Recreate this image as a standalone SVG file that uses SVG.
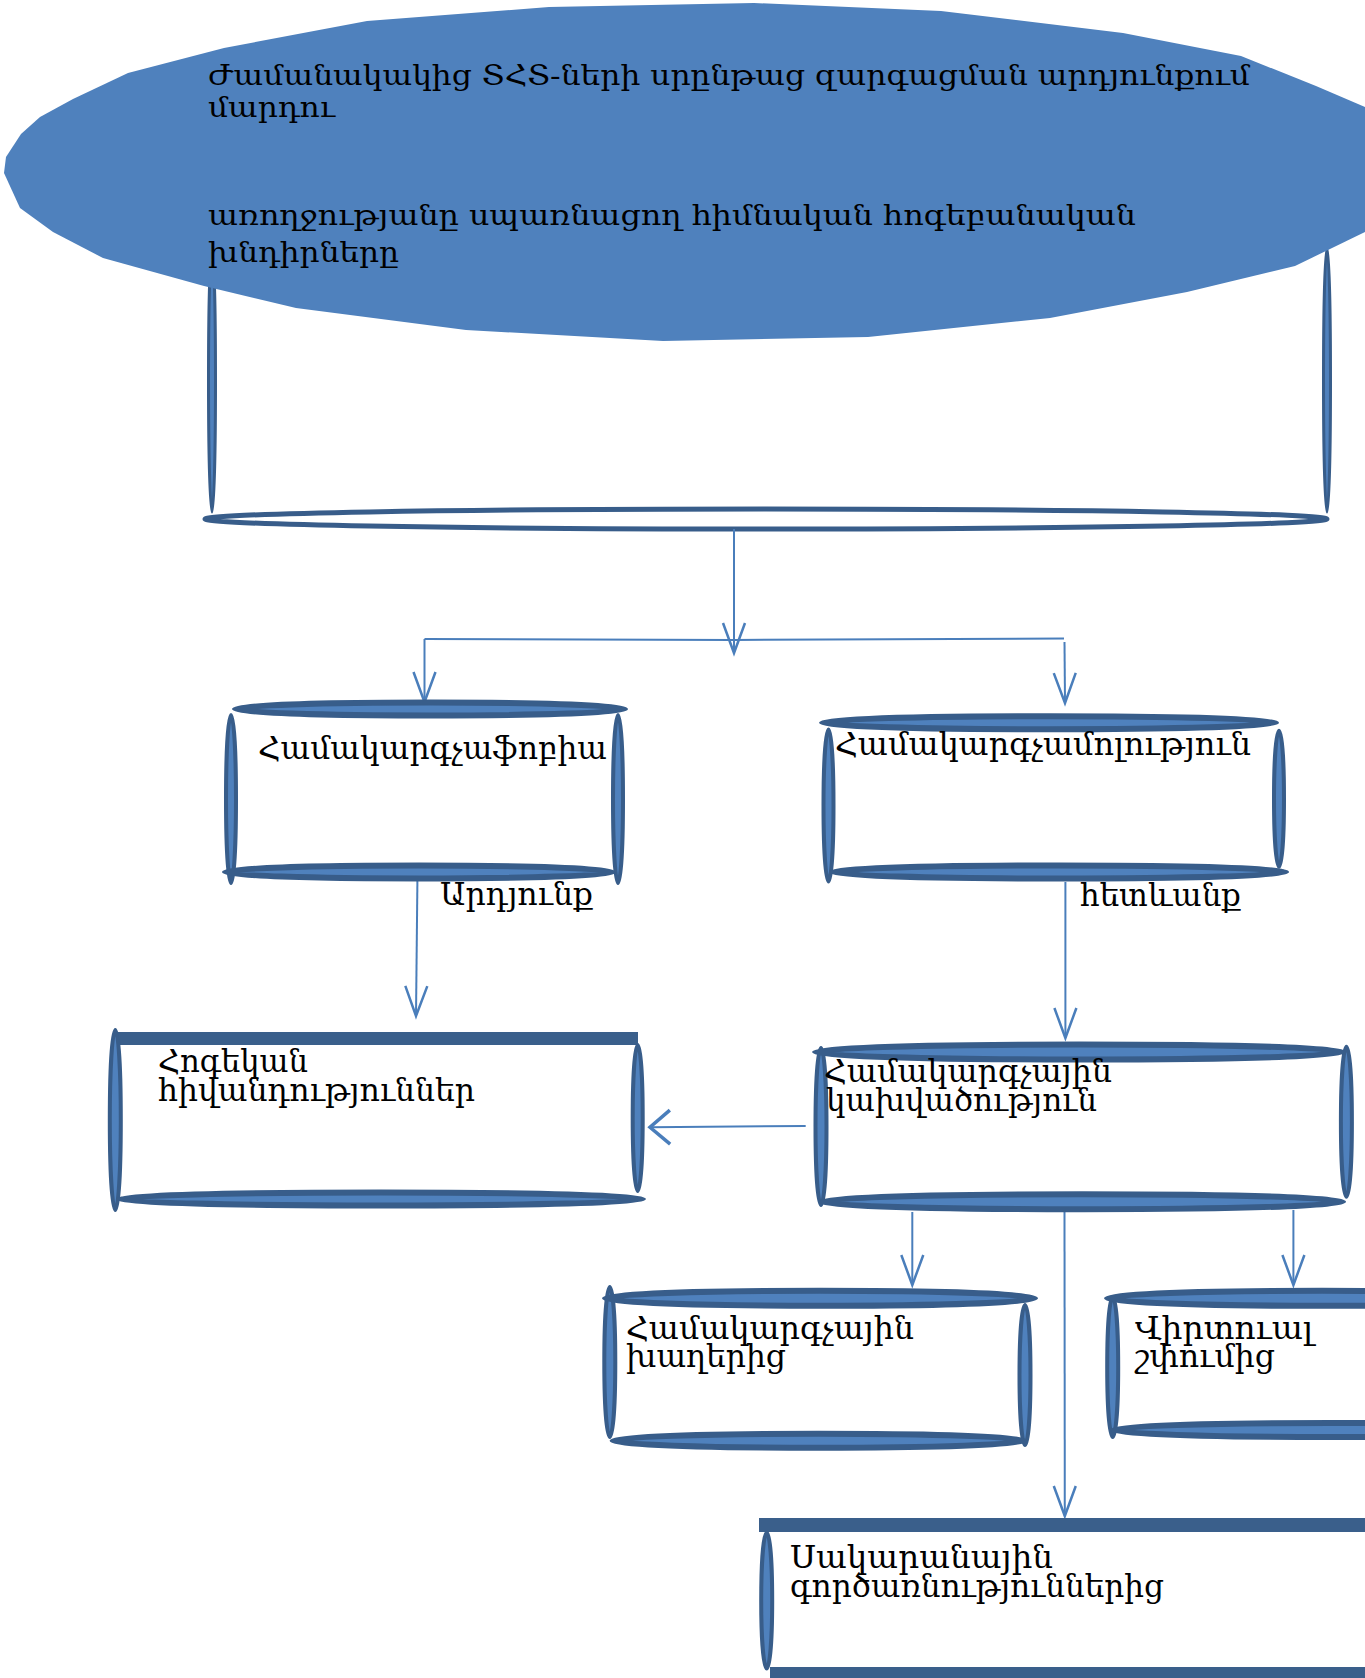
<svg xmlns="http://www.w3.org/2000/svg" width="1365" height="1678" viewBox="0 0 1365 1678">
<style>
.bar{fill:#4f81bd;stroke:#385d8a;stroke-width:4}
.hbar{fill:#4f81bd;stroke:#385d8a;stroke-width:6}
.thin{fill:#4f81bd;stroke:#385d8a;stroke-width:3}
.slab{fill:#3a5f8b}
.t{font-family:'DejaVu Serif',serif;fill:#000}
.te{font-size:27px}
.tb{font-size:32px}
.con{fill:none;stroke:#4a7ebb;stroke-width:2}
</style>
<defs>
<marker id="arr" markerUnits="userSpaceOnUse" markerWidth="32" markerHeight="26" viewBox="0 0 32 26" refX="30" refY="13" orient="auto" overflow="visible">
<path d="M0,2 L30,13 L0,24" fill="none" stroke="#4a7ebb" stroke-width="2.5"/>
</marker>
<marker id="arrL" markerUnits="userSpaceOnUse" markerWidth="22" markerHeight="38" viewBox="0 0 22 38" refX="20" refY="19" orient="auto" overflow="visible">
<path d="M0,2 L20,19 L0,36" fill="none" stroke="#4a7ebb" stroke-width="3.5"/>
</marker>
</defs>
<rect width="1365" height="1678" fill="#fff"/>

<g id="main-frame">
<ellipse class="thin" cx="212" cy="380" rx="3.5" ry="132"/>
<ellipse class="thin" cx="1327" cy="380" rx="3.5" ry="132"/>
<ellipse cx="766" cy="519" rx="561" ry="10" fill="#fff" stroke="#385d8a" stroke-width="5"/>
</g>

<g id="title">
<polygon fill="#4f81bd" points="754,3 941,11 1123,33 1241,56 1316,86 1365,107 1420,170 1365,232 1295,266 1187,292 1050,318 868,337 663,341 466,330 296,308 204,286 103,258 53,232 20,208 4,173 6,157 21,134 40,117 73,99 128,73 224,48 367,21 549,7"/>
<text class="t te"><tspan x="208" y="85" textLength="1042" lengthAdjust="spacingAndGlyphs">Ժամանակակից ՏՀՏ-ների սրընթաց զարգացման արդյունքում</tspan></text>
<text class="t te"><tspan x="208" y="117" textLength="127" lengthAdjust="spacingAndGlyphs">մարդու</tspan></text>
<text class="t te"><tspan x="208" y="225" textLength="928" lengthAdjust="spacingAndGlyphs">առողջությանը սպառնացող հիմնական հոգեբանական</tspan></text>
<text class="t te"><tspan x="208" y="262" textLength="191" lengthAdjust="spacingAndGlyphs">խնդիրները</tspan></text>
</g>

<g id="connectors">
<line class="con" x1="734" y1="529" x2="734" y2="653" marker-end="url(#arr)"/>
<path class="con" d="M424.5,639 L734,640 L1064,638.5" stroke-width="1.8"/>
<line class="con" x1="424.5" y1="639" x2="424.5" y2="702" marker-end="url(#arr)"/>
<line class="con" x1="1064.5" y1="642" x2="1065" y2="703" marker-end="url(#arr)"/>
<line class="con" x1="417.4" y1="881" x2="416" y2="1016" marker-end="url(#arr)"/>
<line class="con" x1="1065.4" y1="882" x2="1065.4" y2="1038" marker-end="url(#arr)"/>
<line class="con" x1="805.7" y1="1126" x2="650" y2="1127.3" stroke-width="3.5" marker-end="url(#arrL)"/>
<line class="con" x1="912.3" y1="1212" x2="912.3" y2="1285" marker-end="url(#arr)"/>
<line class="con" x1="1064.5" y1="1210" x2="1064.8" y2="1516" marker-end="url(#arr)"/>
<line class="con" x1="1293.4" y1="1210" x2="1293.4" y2="1285" marker-end="url(#arr)"/>
<text class="t tb"><tspan x="440" y="905" textLength="153" lengthAdjust="spacingAndGlyphs">Արդյունք</tspan></text>
<text class="t tb"><tspan x="1080" y="906" textLength="161" lengthAdjust="spacingAndGlyphs">հետևանք</tspan></text>
</g>

<g id="node-phobia">
<ellipse class="bar" cx="231" cy="799" rx="5" ry="84"/>
<ellipse class="bar" cx="618" cy="799" rx="5" ry="84"/>
<ellipse class="hbar" cx="430" cy="709" rx="195" ry="6.5"/>
<ellipse class="hbar" cx="419" cy="872" rx="194" ry="6.5"/>
<text class="t tb"><tspan x="258" y="759" textLength="349" lengthAdjust="spacingAndGlyphs">Համակարգչաֆոբիա</tspan></text>
</g>

<g id="node-mania">
<ellipse class="bar" cx="828.5" cy="805.5" rx="5" ry="76"/>
<ellipse class="bar" cx="1279" cy="798.7" rx="5" ry="68"/>
<ellipse class="hbar" cx="1049" cy="722.7" rx="227" ry="6.5"/>
<ellipse class="hbar" cx="1059" cy="872" rx="227" ry="6.5"/>
<text class="t tb"><tspan x="835" y="755" textLength="416" lengthAdjust="spacingAndGlyphs">Համակարգչամոլություն</tspan></text>
</g>

<g id="node-illness">
<rect class="slab" x="115" y="1032" width="523" height="13"/>
<ellipse class="bar" cx="115.3" cy="1120" rx="5.5" ry="90"/>
<ellipse class="bar" cx="637.7" cy="1118" rx="5" ry="73"/>
<ellipse class="hbar" cx="381" cy="1199" rx="262" ry="6.5"/>
<text class="t tb"><tspan x="158" y="1071.7" textLength="150" lengthAdjust="spacingAndGlyphs">Հոգեկան</tspan></text>
<text class="t tb"><tspan x="158" y="1100.7" textLength="317" lengthAdjust="spacingAndGlyphs">հիվանդություններ</tspan></text>
</g>

<g id="node-addiction">
<ellipse class="bar" cx="821" cy="1126.5" rx="5.5" ry="78.5"/>
<ellipse class="bar" cx="1346.4" cy="1121.7" rx="5.5" ry="75"/>
<ellipse class="hbar" cx="1079" cy="1052" rx="264" ry="7.5" stroke-width="7"/>
<ellipse class="hbar" cx="1082" cy="1201.7" rx="261" ry="7.5" stroke-width="7"/>
<text class="t tb"><tspan x="824" y="1082" textLength="288" lengthAdjust="spacingAndGlyphs">Համակարգչային</tspan></text>
<text class="t tb"><tspan x="826" y="1111" textLength="271" lengthAdjust="spacingAndGlyphs">կախվածություն</tspan></text>
</g>

<g id="node-games">
<ellipse class="bar" cx="609.8" cy="1362" rx="5.5" ry="75"/>
<ellipse class="bar" cx="1025" cy="1375" rx="5.5" ry="70"/>
<ellipse class="hbar" cx="820" cy="1298.3" rx="215" ry="7.5" stroke-width="7"/>
<ellipse class="hbar" cx="818.6" cy="1440.7" rx="206" ry="7" stroke-width="7"/>
<text class="t tb"><tspan x="626" y="1338.5" textLength="288" lengthAdjust="spacingAndGlyphs">Համակարգչային</tspan></text>
<text class="t tb"><tspan x="626" y="1367" textLength="160" lengthAdjust="spacingAndGlyphs">խաղերից</tspan></text>
</g>

<g id="node-virtual">
<ellipse class="bar" cx="1112.7" cy="1367" rx="5.5" ry="70"/>
<ellipse class="hbar" cx="1322" cy="1298.3" rx="215" ry="7.5" stroke-width="7"/>
<ellipse class="hbar" cx="1330" cy="1430" rx="217" ry="7" stroke-width="7"/>
<text class="t tb"><tspan x="1135" y="1338.5" textLength="178" lengthAdjust="spacingAndGlyphs">Վիրտուալ</tspan></text>
<text class="t tb"><tspan x="1135" y="1367" textLength="140" lengthAdjust="spacingAndGlyphs">շփումից</tspan></text>
</g>

<g id="node-exchange">
<rect class="slab" x="759" y="1518" width="700" height="14"/>
<ellipse class="bar" cx="766.7" cy="1600.5" rx="5.5" ry="68"/>
<rect class="slab" x="770" y="1667" width="700" height="14"/>
<text class="t tb"><tspan x="790" y="1568.3" textLength="263" lengthAdjust="spacingAndGlyphs">Սակարանային</tspan></text>
<text class="t tb"><tspan x="790" y="1596.7" textLength="374" lengthAdjust="spacingAndGlyphs">գործառնություններից</tspan></text>
</g>
</svg>
